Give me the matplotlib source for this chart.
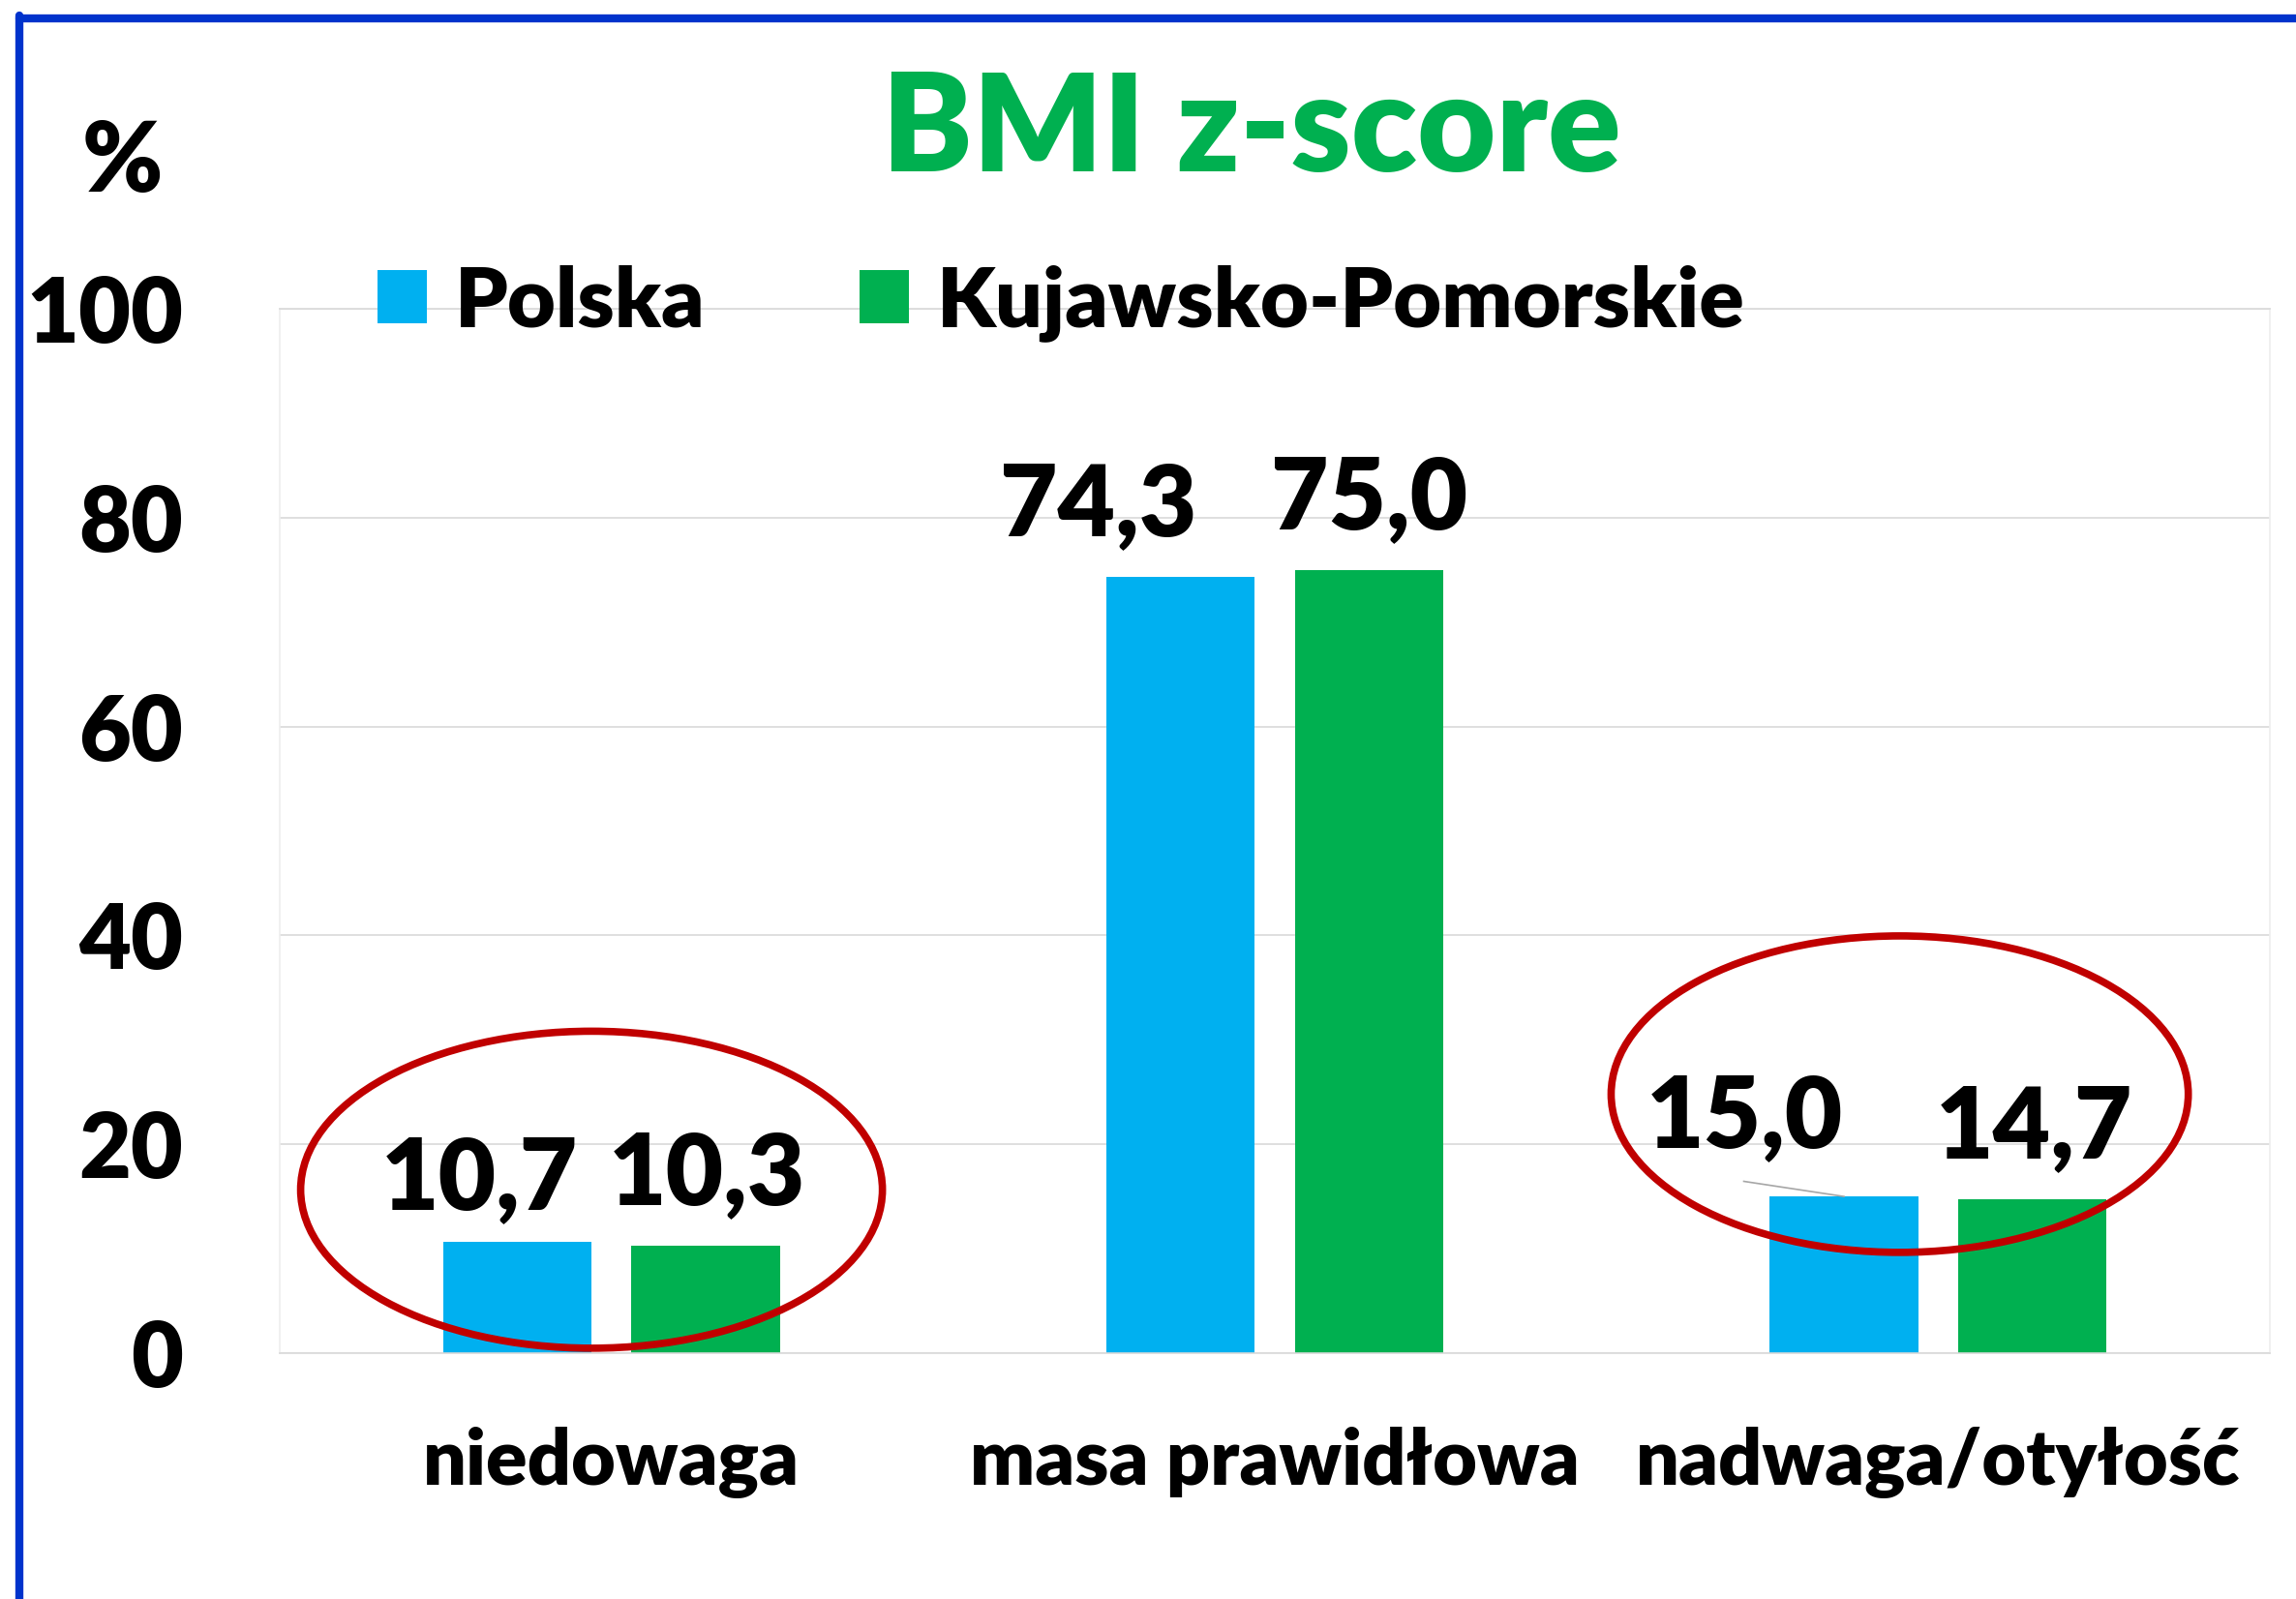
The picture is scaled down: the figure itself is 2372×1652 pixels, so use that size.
import matplotlib as ml
ml.use('Agg')
import numpy as np
import matplotlib.pyplot as plt
from matplotlib.patches import Ellipse
from matplotlib.lines import Line2D

plt.rcParams['font.family'] = ['Lato', 'DejaVu Sans']
plt.rcParams['font.weight'] = 'heavy'

# Chart data
categories = ['niedowaga', 'masa prawidłowa', 'nadwaga/otyłość']
series_names = ['Polska', 'Kujawsko-Pomorskie']
polska = [10.7, 74.3, 15.0]
kujawsko = [10.3, 75.0, 14.7]
yticks = [0, 20, 40, 60, 80, 100]

BLUE = '#00B0F0'
GREEN = '#00B050'
RED = '#C00000'
FRAME = '#0033CC'

W, H = 2372, 1652
fig = plt.figure(figsize=(W / 100, H / 100), dpi=100)
fig.patch.set_facecolor('white')

# plot area in pixel terms
left, right, top, bottom = 289, 2345, 319, 1398
ax = fig.add_axes([left / W, 1 - bottom / H, (right - left) / W, (bottom - top) / H])

x = np.arange(len(categories))
bw = 0.224
off = 0.142
ax.bar(x - off, polska, width=bw, color=BLUE, label=series_names[0], zorder=2)
ax.bar(x + off, kujawsko, width=bw, color=GREEN, label=series_names[1], zorder=2)

ax.set_xlim(-0.5, 2.5)
ax.set_ylim(0, 100)
ax.set_yticks(yticks)
ax.set_yticklabels([str(t) for t in yticks])
ax.set_xticks(x)
ax.set_xticklabels(categories)
ax.tick_params(axis='y', length=0, pad=72, labelsize=67)
ax.tick_params(axis='x', length=0, pad=55, labelsize=57)
ax.yaxis.grid(True, color='#D9D9D9', linewidth=1.2, zorder=0)
ax.set_axisbelow(True)
for s in ['left', 'right']:
    ax.spines[s].set_color('#EEEEEE')
    ax.spines[s].set_linewidth(1.2)
for s in ['top', 'bottom']:
    ax.spines[s].set_color('#D9D9D9')
    ax.spines[s].set_linewidth(1.2)

# data labels (some moved by hand in the original)
shifts_p = [(-0.057, 3.1), (-0.124, 4.0), (-0.149, 4.7)]
shifts_k = [(0.002, 3.95), (0.001, 3.95), (0.002, 4.06)]
for i in range(len(categories)):
    dx, dy = shifts_p[i]
    ax.text(x[i] - off + dx, polska[i] + dy, f'{polska[i]:.1f}'.replace('.', ','),
            ha='center', va='baseline', fontsize=74, zorder=4)
    dx, dy = shifts_k[i]
    ax.text(x[i] + off + dx, kujawsko[i] + dy, f'{kujawsko[i]:.1f}'.replace('.', ','),
            ha='center', va='baseline', fontsize=74, zorder=4)

# leader line for the moved 15,0 label
ax.plot([1.707, 2 - off], [16.45, polska[2]], color='#A6A6A6', lw=1.2, zorder=3)

# red ellipses
ax.add_patch(Ellipse((-0.030, 15.65), 0.877, 30.35, fill=False, edgecolor=RED,
                     lw=5.5, zorder=5, clip_on=False))
ax.add_patch(Ellipse((1.942, 24.8), 0.870, 30.3, fill=False, edgecolor=RED,
                     lw=5.5, zorder=5, clip_on=False))

# legend
ax.legend(loc='center', bbox_to_anchor=(1096 / W, 1 - 313 / H), bbox_transform=fig.transFigure,
          ncol=2, frameon=False, fontsize=62, handlelength=0.6, handleheight=0.6,
          handletextpad=0.33, columnspacing=1.85, borderpad=0, borderaxespad=0)

# title and unit
fig.text(1293 / W, 1 - 177 / H, 'BMI z-score', ha='center', va='baseline',
         fontsize=101, color=GREEN)
fig.text(126 / W, 1 - 198 / H, '%', ha='center', va='baseline', fontsize=72)

# blue frame (left and top edges visible)
fig.add_artist(Line2D([20 / W, 20 / W], [0, 1 - 16 / H], color=FRAME, lw=6,
                      solid_capstyle='round', transform=fig.transFigure))
fig.add_artist(Line2D([20 / W, 1], [1 - 19 / H, 1 - 19 / H], color=FRAME, lw=6,
                      solid_capstyle='round', transform=fig.transFigure))

fig.savefig('out.png', dpi=100, facecolor='white')
plt.close(fig)
